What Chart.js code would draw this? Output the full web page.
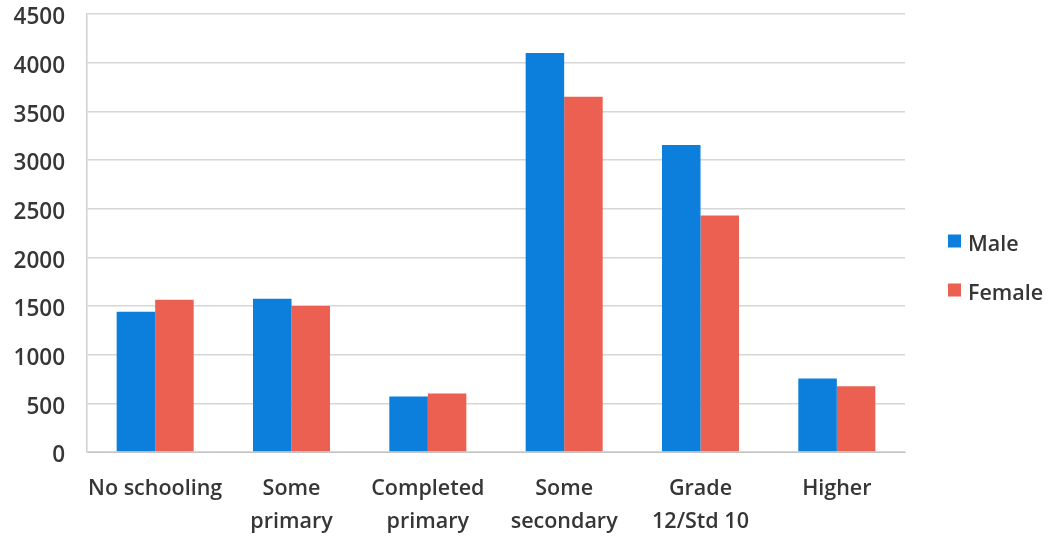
<!DOCTYPE html>
<html>
<head>
<meta charset="utf-8">
<script src="https://cdn.jsdelivr.net/npm/chart.js@4"></script>
<style>
  html, body { margin: 0; padding: 0; background: #ffffff; }
  #wrap { width: 1050px; height: 537px; }
</style>
</head>
<body>
<div id="wrap"><canvas id="chart" width="1050" height="537"></canvas></div>
<script>
// Education level by sex
const categories = [
  'No schooling',
  ['Some', 'primary'],
  ['Completed', 'primary'],
  ['Some', 'secondary'],
  ['Grade', '12/Std 10'],
  'Higher'
];
const maleValues = [1440, 1575, 570, 4100, 3155, 755];
const femaleValues = [1565, 1500, 600, 3650, 2430, 675];
const seriesNames = ['Male', 'Female'];
const yTicks = [0, 500, 1000, 1500, 2000, 2500, 3000, 3500, 4000, 4500];

const FONT = '"Open Sans", "DejaVu Sans", sans-serif';
const TEXT = '#363636';
const BLUE = '#0b7fdb';
const RED = '#ec6052';

// Legend drawn at the right of the plot, one square marker per series
const sideLegend = {
  id: 'sideLegend',
  afterDraw(chart) {
    const ctx = chart.ctx;
    const area = chart.chartArea;
    const x0 = area.right + 43;
    const midY = chart.height / 2;
    const gap = 49;
    const size = 13;
    ctx.save();
    ctx.font = '600 21.5px ' + FONT;
    ctx.textBaseline = 'middle';
    ctx.textAlign = 'left';
    chart.data.datasets.forEach((ds, i) => {
      const cy = midY - gap / 2 + i * gap;
      ctx.fillStyle = ds.backgroundColor;
      ctx.fillRect(x0, cy - size / 2 - 3, size, size);
      ctx.fillStyle = TEXT;
      ctx.fillText(ds.label, x0 + size + 7, cy + 1);
    });
    ctx.restore();
  }
};

new Chart(document.getElementById('chart'), {
  type: 'bar',
  data: {
    labels: categories,
    datasets: [
      { label: seriesNames[0], data: maleValues, backgroundColor: BLUE },
      { label: seriesNames[1], data: femaleValues, backgroundColor: RED }
    ]
  },
  options: {
    responsive: false,
    animation: false,
    layout: { padding: { top: 14, right: 145, left: 0, bottom: 0 } },
    datasets: {
      bar: { barPercentage: 1.0, categoryPercentage: 0.565, borderWidth: 0 }
    },
    plugins: {
      legend: { display: false },
      tooltip: { enabled: false }
    },
    scales: {
      x: {
        grid: { display: false, drawTicks: false },
        border: { display: true, color: '#c4c4c4', width: 1 },
        ticks: {
          color: TEXT,
          font: { family: FONT, size: 21.5, weight: '600', lineHeight: 1.56 },
          padding: 20,
          maxRotation: 0,
          autoSkip: false
        },
        afterFit(scale) {
          scale.height = 85;
          scale.paddingLeft = 0;
          scale.paddingRight = 0;
        }
      },
      y: {
        min: 0,
        max: 4500,
        afterBuildTicks(scale) { scale.ticks = yTicks.map(v => ({ value: v })); },
        grid: { color: '#d6d6d6', lineWidth: 1.5, drawTicks: false },
        border: { display: true, color: '#cfcfcf', width: 1.5 },
        ticks: {
          color: TEXT,
          font: { family: FONT, size: 22.5, weight: '600' },
          padding: 22,
          labelOffset: 4,
          callback: (value) => String(value)
        },
        afterFit(scale) {
          scale.width = 87;
          scale.paddingTop = 0;
          scale.paddingBottom = 0;
        }
      }
    }
  },
  plugins: [sideLegend]
});
</script>
</body>
</html>
